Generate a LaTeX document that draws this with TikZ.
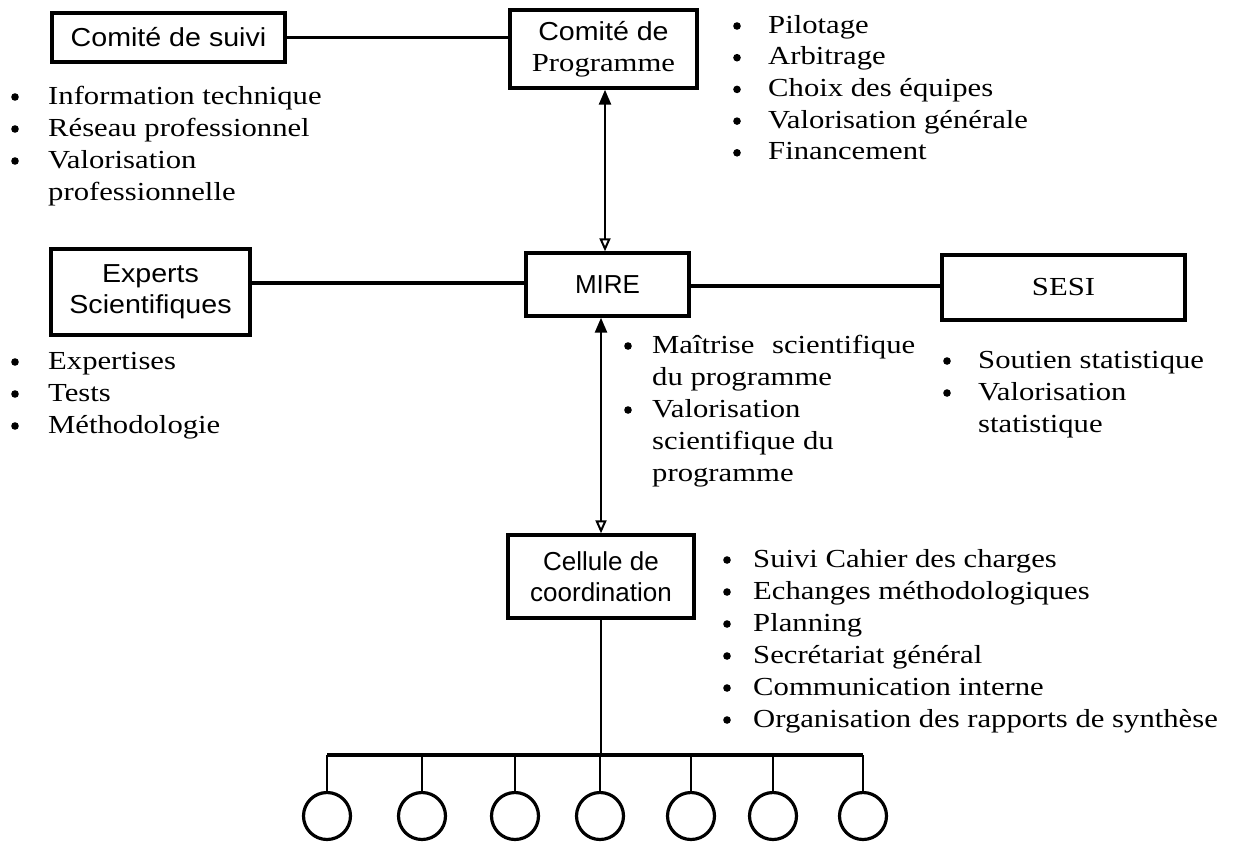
\documentclass[tikz,border=0pt]{standalone}
\usepackage{fontspec}
\setmainfont{Liberation Serif}[FakeStretch=1.18]
\newfontfamily\boxsans{Liberation Sans}
\newfontfamily\widesans{Liberation Sans}[FakeStretch=1.1]
\usetikzlibrary{arrows.meta}
\begin{document}
\begin{tikzpicture}[x=1pt,y=-1pt,
  txt/.style={font=\fontsize{26}{31}\selectfont, inner sep=0pt, anchor=base west},
  bx/.style={draw, line width=3.4pt, inner sep=0pt, align=center, font=\fontsize{26}{31}\selectfont},
  conn/.style={line width=3.2pt},
  dbl/.style={line width=2.6pt, {Triangle[width=12pt,length=15pt]}-{Triangle[open,width=11pt,length=13pt,line width=2pt]}},
  drop/.style={line width=2.6pt},
  ring/.style={draw, circle, line width=3.2pt, minimum size=47pt, inner sep=0pt},
  bul/.style={radius=3.8pt}]
\useasboundingbox (0,0) rectangle (1239,847);

% boxes
\node[bx, minimum width=233pt, minimum height=49pt] (cs) at (168.5,37.5) {\widesans Comité de suivi};
\node[bx, minimum width=187pt, minimum height=78pt] (cp) at (603.5,49) {{\widesans Comité de}\\Programme};
\node[bx, minimum width=163pt, minimum height=63pt] (mire) at (607.5,284.5) {\boxsans MIRE};
\node[bx, minimum width=199pt, minimum height=86pt] (ex) at (150.5,292) {{\widesans Experts}\\{\widesans Scientifiques}};
\node[bx, minimum width=243pt, minimum height=65pt] (sesi) at (1063.5,287.5) {SESI};
\node[bx, minimum width=186pt, minimum height=83pt] (cell) at (601,576.5) {\boxsans Cellule de\\\boxsans coordination};

% helper coordinates
\coordinate (hl) at (0,283);
\coordinate (hr) at (0,286);
\coordinate (ax1) at (605,0);
\coordinate (ax2) at (601,0);
\coordinate (bus) at (0,755);

% connectors
\draw[conn] (cs.east) -- (cs.east -| cp.west);
\draw[conn] (ex.east |- hl) -- (mire.west |- hl);
\draw[conn] (mire.east |- hr) -- (sesi.west |- hr);
\draw[dbl] (ax1 |- cp.south) -- (ax1 |- mire.north);
\draw[dbl] (ax2 |- mire.south) -- (ax2 |- cell.north);
\draw[drop] (cell.south) -- (cell.south |- bus);

% circles and bus
\foreach \cx [count=\i] in {327,422,515,600,691,773,863}
  \node[ring] (c\i) at (\cx,816) {};
\draw[conn] (c1 |- bus) -- (c7 |- bus);
\foreach \i in {1,...,7}
  \draw[drop] (c\i |- bus) -- (c\i.north);

% list: Comite de suivi
\foreach \t [count=\i from 0] in {Information technique,Réseau professionnel,Valorisation} {
  \node[txt] (csl\i) at (48,{104+32*\i}) {\t};
  \fill (15,{97+32*\i}) circle[bul];
}
\node[txt] (csl3) at (48,200) {professionnelle};

% list: Comite de Programme
\foreach \t [count=\i from 0] in {Pilotage,Arbitrage,Choix des équipes,Valorisation générale,Financement} {
  \node[txt] (cpl\i) at (768,{33+31.7*\i}) {\t};
  \fill (737,{26+31.7*\i}) circle[bul];
}

% list: Experts
\foreach \t [count=\i from 0] in {Expertises,Tests,Méthodologie} {
  \node[txt] (exl\i) at (48,{369+32*\i}) {\t};
  \fill (15,{362+32*\i}) circle[bul];
}

% list: MIRE
\node[txt] (mrl0) at (652,353) {\makebox[263pt][l]{Maîtrise\hfill scientifique}};
\node[txt] (mrl1) at (652,385) {du programme};
\node[txt] (mrl2) at (652,417) {Valorisation};
\node[txt] (mrl3) at (652,449) {scientifique du};
\node[txt] (mrl4) at (652,481) {programme};
\fill (628,346) circle[bul];
\fill (628,410) circle[bul];

% list: SESI
\node[txt] (ssl0) at (978,368) {Soutien statistique};
\node[txt] (ssl1) at (978,400) {Valorisation};
\node[txt] (ssl2) at (978,432) {statistique};
\fill (947,361) circle[bul];
\fill (947,393) circle[bul];

% list: Cellule
\foreach \t [count=\i from 0] in {Suivi Cahier des charges,Echanges méthodologiques,Planning,Secrétariat général,Communication interne,Organisation des rapports de synthèse} {
  \node[txt] (cll\i) at (753,{567+32*\i}) {\t};
  \fill (727,{560+32*\i}) circle[bul];
}
\end{tikzpicture}
\end{document}
